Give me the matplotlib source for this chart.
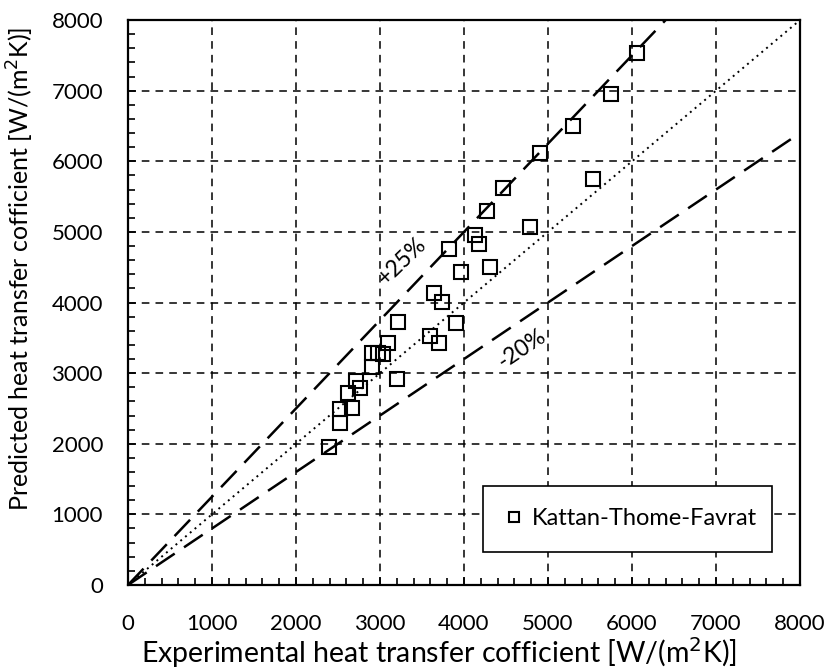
import matplotlib.pyplot as plt
from matplotlib.ticker import MultipleLocator

plt.rcParams['font.family'] = ['Lato', 'DejaVu Sans']

# Experimental vs. predicted heat transfer coefficient, W/(m2K)
h_exp = [6060, 5750, 5300, 4910, 5530, 4470, 4270, 4790, 4130, 4180,
         3820, 3970, 4310, 3640, 3740, 3220, 3900, 3600, 3700, 3100,
         2910, 2980, 3040, 2900, 3200, 2710, 2760, 2615, 2670, 2525,
         2525, 2395]
h_pred = [7530, 6950, 6500, 6115, 5755, 5620, 5300, 5075, 4960, 4830,
          4755, 4430, 4510, 4130, 4005, 3720, 3715, 3530, 3420, 3430,
          3290, 3285, 3275, 3080, 2915, 2890, 2790, 2725, 2500, 2495,
          2290, 1960]

lim = 8000
band_hi = 1.25
band_lo = 0.80

fig = plt.figure(figsize=(8.28, 6.69), dpi=100)
ax = fig.add_axes([0.1546, 0.1256, 0.8116, 0.8444])

# reference lines: perfect agreement and the +25% / -20% band
ax.plot([0, lim], [0, lim], color='black', lw=1.4, ls=(0, (1, 2.2)), zorder=2)
ax.plot([0, lim / band_hi], [0, lim], color='black', lw=1.8,
        ls=(0, (9, 4.5)), zorder=2)
ax.plot([0, lim], [0, lim * band_lo], color='black', lw=1.8,
        ls=(0, (9, 4.5)), zorder=2)

ax.plot(h_exp, h_pred, ls='none', marker='s', ms=9.5, mfc='none',
        mec='black', mew=1.5, label='Kattan-Thome-Favrat', zorder=3)

ax.text(3270, 4580, '+25%', rotation=44, fontsize=16.5, ha='center',
        va='center', zorder=4)
ax.text(4690, 3350, '-20%', rotation=34, fontsize=16.5, ha='center',
        va='center', zorder=4)

ax.set_xlim(0, lim)
ax.set_ylim(0, lim)
ax.xaxis.set_major_locator(MultipleLocator(1000))
ax.yaxis.set_major_locator(MultipleLocator(1000))
ax.xaxis.set_minor_locator(MultipleLocator(200))
ax.yaxis.set_minor_locator(MultipleLocator(200))
ax.tick_params(which='both', direction='in', top=False, right=False,
               labelsize=16, width=1.2)
ax.tick_params(which='major', length=6)
ax.tick_params(which='minor', length=5)
ax.tick_params(axis='x', which='major', pad=21)
ax.tick_params(axis='y', which='major', pad=18)
ax.grid(which='major', color='black', ls=(0, (5, 4)), lw=1.1)

for sp in ax.spines.values():
    sp.set_linewidth(1.6)
    sp.set_color('black')

ax.set_xlabel('Experimental heat transfer cofficient [W/(m$^2$K)]',
              fontsize=20.5)
ax.set_ylabel('Predicted heat transfer cofficient [W/(m$^2$K)]',
              fontsize=18)
ax.xaxis.set_label_coords(0.463, -0.088)
ax.yaxis.set_label_coords(-0.137, 0.559)

leg = ax.legend(loc='lower left', bbox_to_anchor=(0.529, 0.059, 0.429, 0.121),
                mode='expand', fontsize=17, handlelength=0.7,
                handletextpad=0.4, borderaxespad=0, fancybox=False,
                framealpha=1, markerscale=0.8, borderpad=0.95)
leg.get_frame().set_edgecolor('black')
leg.get_frame().set_linewidth(1.2)

fig.savefig('out.png', dpi=100)
